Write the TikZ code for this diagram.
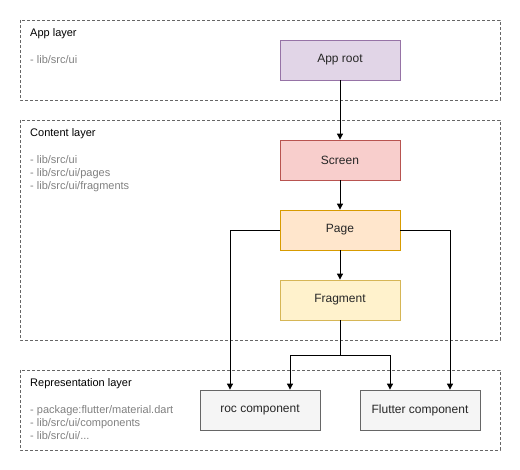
\documentclass[tikz,border=0pt]{standalone}
\usepackage{fontspec}
\setmainfont{Liberation Sans}
\usetikzlibrary{arrows.meta}

\definecolor{rootfill}{HTML}{E1D5E7}
\definecolor{rootdraw}{HTML}{9673A6}
\definecolor{screenfill}{HTML}{F8CECC}
\definecolor{screendraw}{HTML}{B85450}
\definecolor{pagefill}{HTML}{FFE6CC}
\definecolor{pagedraw}{HTML}{D79B00}
\definecolor{fragfill}{HTML}{FFF2CC}
\definecolor{fragdraw}{HTML}{D6B656}
\definecolor{compfill}{HTML}{F5F5F5}
\definecolor{compdraw}{HTML}{666666}
\definecolor{pathgray}{HTML}{808080}

\tikzset{
    layer/.style={draw=compdraw, dash pattern=on 3pt off 2pt, line width=0.6pt},
    block/.style={draw, line width=0.8pt, minimum width=120pt, minimum height=40pt,
        inner sep=0pt, font=\fontsize{12pt}{14pt}\selectfont, text=black!85},
    title/.style={anchor=base west, inner sep=0pt, font=\fontsize{11pt}{13pt}\selectfont},
    paths/.style={anchor=base west, inner sep=0pt, text=pathgray,
        font=\fontsize{11pt}{13pt}\selectfont},
    link/.style={draw, line width=0.9pt, -{Triangle[length=6pt, width=6pt]}}
}

\begin{document}
\begin{tikzpicture}[x=1pt, y=-1pt]
        \useasboundingbox (0,0) rectangle (520,470);

        % layers
        \draw[layer] (20,20) rectangle (500,100);
        \node[title] (apptitle) at (30,37) {App layer};
        \node[paths] (apppath) at (30,64) {- lib/src/ui};

        \draw[layer] (20,120) rectangle (500,340);
        \node[title] (contenttitle) at (30,137) {Content layer};
        \node[paths] (contentpatha) at (30,164) {- lib/src/ui};
        \node[paths] (contentpathb) at (30,177) {- lib/src/ui/pages};
        \node[paths] (contentpathc) at (30,190) {- lib/src/ui/fragments};

        \draw[layer] (20,370) rectangle (500,450);
        \node[title] (reprtitle) at (30,387) {Representation layer};
        \node[paths] (reprpatha) at (30,414) {- package:flutter/material.dart};
        \node[paths] (reprpathb) at (30,427) {- lib/src/ui/components};
        \node[paths] (reprpathc) at (30,440) {- lib/src/ui/...};

        % blocks
        \node[block, fill=rootfill, draw=rootdraw] (approot) at (340,60) {App root};
        \node[block, fill=screenfill, draw=screendraw] (screen) at (340,160) {Screen};
        \node[block, fill=pagefill, draw=pagedraw] (page) at (340,230) {Page};
        \node[block, fill=fragfill, draw=fragdraw] (fragment) at (340,300) {Fragment};
        \node[block, fill=compfill, draw=compdraw] (roc) at (260,410) {roc component};
        \node[block, fill=compfill, draw=compdraw] (flutter) at (420,410) {Flutter component};

        \coordinate (split) at (340,355);

        % links
        \draw[link] (approot) -- (screen);
        \draw[link] (screen) -- (page);
        \draw[link] (page) -- (fragment);
        \draw[link] (page.west) -| ([xshift=-30pt]roc.north);
        \draw[link] (page.east) -| ([xshift=30pt]flutter.north);
        \draw[link] (fragment.south) -- (split) -| ([xshift=30pt]roc.north);
        \draw[link] (split) -| ([xshift=-30pt]flutter.north);
    \end{tikzpicture}
\end{document}
